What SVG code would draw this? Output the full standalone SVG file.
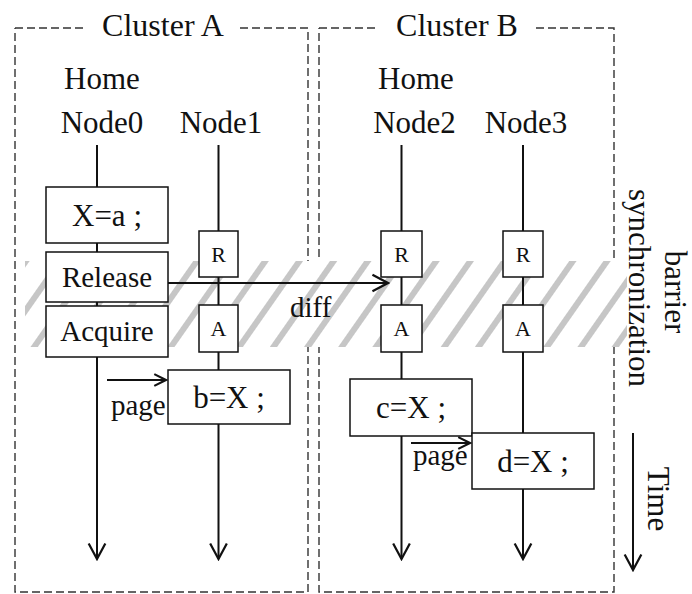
<svg xmlns="http://www.w3.org/2000/svg" width="692" height="594" viewBox="0 0 692 594">
  <style>
    text { font-family: "Liberation Serif", "Times New Roman", serif; fill: #111; }
    .title { font-size: 32px; text-anchor: middle; }
    .lbl { font-size: 31px; text-anchor: middle; }
    .op { font-size: 29px; text-anchor: middle; }
    .expr { font-size: 31px; text-anchor: middle; }
    .small { font-size: 22px; text-anchor: middle; }
    .note { font-size: 29px; }
    .frame { fill: none; stroke: #333; stroke-width: 1.4; stroke-dasharray: 8 4; }
    .life { fill: none; stroke: #111; stroke-width: 2; }
    .box { fill: #fff; stroke: #111; stroke-width: 1.5; }
    .msg { fill: none; stroke: #111; stroke-width: 2; }
  </style>
  <defs>
    <marker id="head" markerUnits="userSpaceOnUse" markerWidth="20" markerHeight="20" viewBox="-16 -9 18 18" refX="0" refY="0" orient="auto">
      <path d="M-14,-7.5 L0,0 L-14,7.5" fill="none" stroke="#111" stroke-width="2"/>
    </marker>
    <marker id="headSmall" markerUnits="userSpaceOnUse" markerWidth="16" markerHeight="16" viewBox="-13 -7 15 14" refX="0" refY="0" orient="auto">
      <path d="M-11,-5.5 L0,0 L-11,5.5" fill="none" stroke="#111" stroke-width="2"/>
    </marker>
    <pattern id="hatch" patternUnits="userSpaceOnUse" width="28" height="20" patternTransform="rotate(35)">
      <rect x="0" y="0" width="6" height="20" fill="#c6c6c6"/>
    </pattern>
  </defs>

  <!-- cluster frames -->
  <g id="clusterA">
    <path class="frame" d="M15,28 H85 M240,28 H308 V592 H15 V28"/>
    <text class="title" x="163" y="36">Cluster A</text>
  </g>
  <g id="clusterB">
    <path class="frame" d="M319,28 H379 M536,28 H614 V592 H319 V28"/>
    <text class="title" x="457" y="36">Cluster B</text>
  </g>

  <!-- barrier synchronization band -->
  <g id="barrier">
    <rect x="25" y="261" width="602" height="86" fill="#fff"/>
    <rect x="25" y="261" width="602" height="86" fill="url(#hatch)"/>
    <text class="lbl" transform="translate(665,292) rotate(90)">barrier</text>
    <text class="lbl" transform="translate(629,288) rotate(90)">synchronization</text>
  </g>

  <!-- process lifelines -->
  <g id="lifelines">
    <line class="life" x1="97" y1="145" x2="97" y2="559" marker-end="url(#head)"/>
    <line class="life" x1="218.5" y1="145" x2="218.5" y2="559" marker-end="url(#head)"/>
    <line class="life" x1="401.5" y1="145" x2="401.5" y2="559" marker-end="url(#head)"/>
    <line class="life" x1="523" y1="145" x2="523" y2="559" marker-end="url(#head)"/>
  </g>

  <g id="node0">
    <text class="lbl" x="102" y="89">Home</text>
    <text class="lbl" x="102" y="133">Node0</text>
  </g>
  <g id="node1">
    <text class="lbl" x="221" y="133">Node1</text>
  </g>
  <g id="node2">
    <text class="lbl" x="416" y="89">Home</text>
    <text class="lbl" x="414.5" y="133">Node2</text>
  </g>
  <g id="node3">
    <text class="lbl" x="526" y="133">Node3</text>
  </g>

  <!-- operations on Node0 -->
  <g id="n0-write">
    <rect class="box" x="46" y="187" width="122" height="56"/>
    <text class="expr" x="107" y="226">X=a ;</text>
  </g>
  <g id="n0-release">
    <rect class="box" x="46" y="252" width="122" height="50"/>
    <text class="op" x="107" y="287">Release</text>
  </g>
  <g id="n0-acquire">
    <rect class="box" x="46" y="306" width="122" height="51"/>
    <text class="op" x="107" y="341">Acquire</text>
  </g>

  <!-- operations on Node1 -->
  <g id="n1-r">
    <rect class="box" x="199" y="231" width="39" height="46"/>
    <text class="small" x="218.5" y="262">R</text>
  </g>
  <g id="n1-a">
    <rect class="box" x="199" y="305" width="39" height="47"/>
    <text class="small" x="218.5" y="336">A</text>
  </g>
  <g id="n1-read">
    <rect class="box" x="168" y="370" width="122" height="54"/>
    <text class="expr" x="229" y="408">b=X ;</text>
  </g>

  <!-- operations on Node2 -->
  <g id="n2-r">
    <rect class="box" x="381" y="231" width="41" height="46"/>
    <text class="small" x="401.5" y="262">R</text>
  </g>
  <g id="n2-a">
    <rect class="box" x="381" y="305" width="41" height="47"/>
    <text class="small" x="401.5" y="336">A</text>
  </g>
  <g id="n2-read">
    <rect class="box" x="350" y="379" width="122" height="57"/>
    <text class="expr" x="411" y="418">c=X ;</text>
  </g>

  <!-- operations on Node3 -->
  <g id="n3-r">
    <rect class="box" x="503" y="231" width="40" height="46"/>
    <text class="small" x="523" y="262">R</text>
  </g>
  <g id="n3-a">
    <rect class="box" x="503" y="305" width="40" height="47"/>
    <text class="small" x="523" y="336">A</text>
  </g>
  <g id="n3-read">
    <rect class="box" x="472" y="433" width="122" height="56"/>
    <text class="expr" x="533" y="472">d=X ;</text>
  </g>

  <!-- messages -->
  <g id="connectors">
    <line class="msg" x1="168" y1="283" x2="388" y2="283" marker-end="url(#head)"/>
    <text class="note" x="290" y="317">diff</text>
    <line class="msg" x1="107" y1="380" x2="166" y2="380" marker-end="url(#headSmall)"/>
    <text class="note" x="111" y="415">page</text>
    <line class="msg" x1="411" y1="443" x2="470" y2="443" marker-end="url(#headSmall)"/>
    <text class="note" x="413" y="465">page</text>
  </g>

  <!-- time axis -->
  <g id="time">
    <line class="life" x1="633" y1="433" x2="633" y2="570" marker-end="url(#head)"/>
    <text class="expr" transform="translate(648,499) rotate(90)">Time</text>
  </g>
</svg>
